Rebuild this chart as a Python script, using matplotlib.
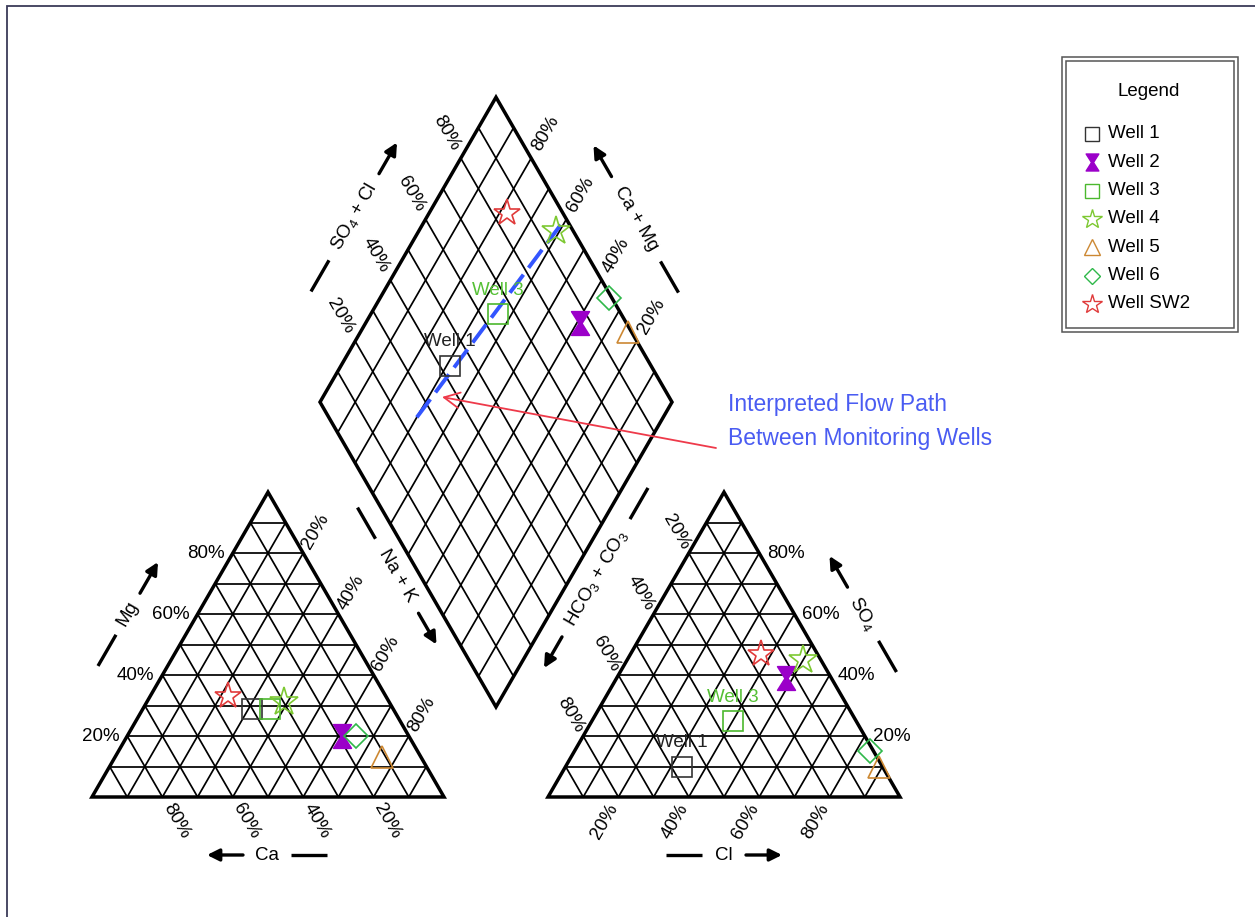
import numpy as np
import matplotlib
matplotlib.use('Agg')
import matplotlib.pyplot as plt
from matplotlib.path import Path
from matplotlib.patches import Rectangle, Polygon

plt.rcParams['font.family'] = 'Liberation Sans'
plt.rcParams['mathtext.fontset'] = 'custom'
plt.rcParams['mathtext.rm'] = 'Liberation Sans'
plt.rcParams['mathtext.it'] = 'Liberation Sans:italic'
plt.rcParams['mathtext.bf'] = 'Liberation Sans:bold'

# ---- data (percent of meq) ----
wells = ['Well 1', 'Well 2', 'Well 3', 'Well 4', 'Well 5', 'Well 6', 'Well SW2']
ca = [40, 19, 35, 30, 11, 15, 45]
mg = [29, 20, 29, 31, 13, 20, 33]
nak = [31, 61, 36, 39, 76, 65, 22]
hco3 = [57, 13, 35, 5, 1, 1, 16]
so4 = [10, 39, 25, 45, 10, 15, 47]
cl = [33, 48, 40, 50, 89, 84, 37]
labelled = ['Well 1', 'Well 3']

# interpreted flow path in the diamond (SO4+Cl %, Ca+Mg %)
flow_so4cl = [25, 99]
flow_camg = [70, 60.5]

ticks = [20, 40, 60, 80]

# ---- styles ----
hourglass = Path([(-0.75, 1), (0.75, 1), (0.12, 0), (0.75, -1), (-0.75, -1), (-0.12, 0), (-0.75, 1)],
                 [Path.MOVETO] + [Path.LINETO] * 5 + [Path.CLOSEPOLY])
colors = ['#333333', '#9b00c9', '#4cb82e', '#7dc832', '#cc8833', '#2fb84a', '#e03a3a']
text_colors = ['#222222', '#9b00c9', '#55c035', '#7dc832', '#cc8833', '#2fb84a', '#e03a3a']
markers = ['s', hourglass, 's', '*', '^', 'D', '*']
sizes = [14, 17, 14, 21, 16, 12, 20]
filled = [False, True, False, False, False, False, False]

# ---- layout (pixels) ----
X0, Y0, S, GAP = 92, 797, 352, 104
H = S * np.sqrt(3) / 2
XR = X0 + S + GAP
XB, YB = X0 + S + GAP / 2, Y0 - GAP * np.sqrt(3) / 2


def cation_xy(c, m, n):
    t = c + m + n
    return X0 + S * (n + 0.5 * m) / t, Y0 - H * m / t


def anion_xy(h, s, c):
    t = h + s + c
    return XR + S * (c + 0.5 * s) / t, Y0 - H * s / t


def diamond_xy(a, b):
    a = np.asarray(a) / 100
    b = np.asarray(b) / 100
    return XB + 0.5 * S * (a - b), YB - H * (a + b)


fig = plt.figure(figsize=(12.55, 9.17), dpi=100)
ax = fig.add_axes([0, 0, 1, 1])
ax.set_xlim(0, 1255)
ax.set_ylim(917, 0)
ax.axis('off')

# outer frame (only top and left visible)
ax.plot([7, 7, 1255], [917, 6, 6], color='#3a3a58', lw=1.3, solid_joinstyle='miter')

GRID = dict(color='black', lw=1.25, zorder=1)
EDGE = dict(fill=False, ec='black', lw=2.5, joinstyle='miter', zorder=2)


def draw_triangle(x0):
    for i in range(1, 10):
        t = i / 10
        ax.plot([x0 + S * 0.5 * t, x0 + S * (1 - 0.5 * t)], [Y0 - H * t, Y0 - H * t], **GRID)
        ax.plot([x0 + S * t, x0 + S * 0.5 * t], [Y0, Y0 - H * t], **GRID)
        ax.plot([x0 + S * t, x0 + S * (t + 0.5 * (1 - t))], [Y0, Y0 - H * (1 - t)], **GRID)
    ax.add_patch(Polygon([(x0, Y0), (x0 + S, Y0), (x0 + S / 2, Y0 - H)], **EDGE))


draw_triangle(X0)
draw_triangle(XR)

for i in range(1, 10):
    t = i * 10
    x, y = diamond_xy([t, t], [0, 100])
    ax.plot(x, y, **GRID)
    x, y = diamond_xy([0, 100], [t, t])
    ax.plot(x, y, **GRID)
dx, dy = diamond_xy([0, 100, 100, 0], [0, 0, 100, 100])
ax.add_patch(Polygon(list(zip(dx, dy)), **EDGE))

# ---- tick labels ----
FS = 13.5
c60, s60 = 0.5, np.sqrt(3) / 2
for v in ticks:
    t = v / 100
    lab = f'{v}%'
    # cation triangle
    ax.text(X0 + S * 0.5 * t - 8, Y0 - H * t, lab, ha='right', va='center', fontsize=FS)
    px, py = X0 + S * (t + 0.5 * (1 - t)), Y0 - H * (1 - t)
    ax.text(px + 6 * c60, py - 6 * s60, lab, rotation=60, rotation_mode='anchor',
            ha='left', va='center', fontsize=FS)
    px, py = X0 + S * (1 - t), Y0
    ax.text(px + 9 * c60, py + 9 * s60, lab, rotation=-60, rotation_mode='anchor',
            ha='left', va='center', fontsize=FS)
    # anion triangle
    px, py = XR + S * 0.5 * (1 - t), Y0 - H * (1 - t)
    ax.text(px - 6 * c60, py - 6 * s60, lab, rotation=-60, rotation_mode='anchor',
            ha='right', va='center', fontsize=FS)
    ax.text(XR + S * (1 - 0.5 * t) + 8, Y0 - H * t, lab, ha='left', va='center', fontsize=FS)
    px, py = XR + S * t, Y0
    ax.text(px - 9 * c60, py + 9 * s60, lab, rotation=60, rotation_mode='anchor',
            ha='right', va='center', fontsize=FS)
    # diamond
    px, py = diamond_xy(v, 100)
    ax.text(px - 10 * c60, py - 10 * s60, lab, rotation=-60, rotation_mode='anchor',
            ha='right', va='center', fontsize=FS)
    px, py = diamond_xy(100, v)
    ax.text(px + 10 * c60, py - 10 * s60, lab, rotation=60, rotation_mode='anchor',
            ha='left', va='center', fontsize=FS)


# ---- axis titles with dash and arrow ----
def axis_title(cx, cy, ang, text, r0, forward, seg=36):
    d = np.array([np.cos(np.radians(ang)), -np.sin(np.radians(ang))])
    c = np.array([cx, cy])
    sa = 1 if forward else -1
    ax.text(cx, cy, text, rotation=ang, rotation_mode='anchor', ha='center', va='center', fontsize=FS)
    p1, p2 = c - sa * d * r0, c - sa * d * (r0 + seg)
    ax.plot([p1[0], p2[0]], [p1[1], p2[1]], color='black', lw=2.4, solid_capstyle='butt')
    a1, a2 = c + sa * d * r0, c + sa * d * (r0 + seg)
    ax.annotate('', xy=a2, xytext=a1,
                arrowprops=dict(arrowstyle='-|>', color='black', lw=2.4, mutation_scale=18,
                                shrinkA=0, shrinkB=0))


axis_title(267, 855, 0, 'Ca', 24, False)
axis_title(128, 614, 60, 'Mg', 24, True)
axis_title(397, 576, -60, 'Na + K', 43, True)
axis_title(596, 578, 60, r'HCO$_\mathregular{3}$ + CO$_\mathregular{3}$', 68, False)
axis_title(863, 614, -60, r'SO$_\mathregular{4}$', 31, False)
axis_title(724, 855, 0, 'Cl', 22, True)
axis_title(354, 217, 60, r'SO$_\mathregular{4}$ + Cl', 50, True)
axis_title(636, 219, -60, 'Ca + Mg', 49, False)

# ---- flow path ----
fx, fy = diamond_xy(flow_so4cl, flow_camg)
ax.plot(fx, fy, color='#3355ff', lw=2.8, dashes=(5.8, 2.2), zorder=4)

# ---- samples ----
for i, w in enumerate(wells):
    pts = [cation_xy(ca[i], mg[i], nak[i]), anion_xy(hco3[i], so4[i], cl[i]),
           diamond_xy(so4[i] + cl[i], ca[i] + mg[i])]
    ax.plot([p[0] for p in pts], [p[1] for p in pts], linestyle='none', marker=markers[i],
            ms=sizes[i], mec=colors[i], mfc=colors[i] if filled[i] else 'none', mew=1.2, zorder=5)
    if w in labelled:
        for p in pts[1:]:
            ax.annotate(w, xy=p, xytext=(0, 17), textcoords='offset points', ha='center',
                        va='center', fontsize=FS, color=text_colors[i], zorder=6)

# ---- annotation ----
ax.annotate('', xy=(442, 397), xytext=(716, 448),
            arrowprops=dict(arrowstyle='->', color='#ee3a4a', lw=1.3, mutation_scale=28,
                            shrinkA=0, shrinkB=0))
ax.text(728, 404, 'Interpreted Flow Path', color='#4a5cf2', fontsize=16.5, ha='left', va='center')
ax.text(728, 438, 'Between Monitoring Wells', color='#4a5cf2', fontsize=16.5, ha='left', va='center')

# ---- legend box ----
ax.add_patch(Rectangle((1062, 57), 176, 275, fill=False, ec='#555555', lw=1.1))
ax.add_patch(Rectangle((1066, 61), 168, 267, fill=False, ec='#555555', lw=1.1))
ax.text(1149, 91, 'Legend', ha='center', va='center', fontsize=FS)
for i, w in enumerate(wells):
    y = 134 + 28.3 * i
    ax.plot(1092, y, linestyle='none', marker=markers[i], ms=sizes[i] * 0.72, mec=colors[i],
            mfc=colors[i] if filled[i] else 'none', mew=1.0)
    ax.text(1108, y, w, ha='left', va='center', fontsize=FS)

fig.savefig('out.png', dpi=100)
